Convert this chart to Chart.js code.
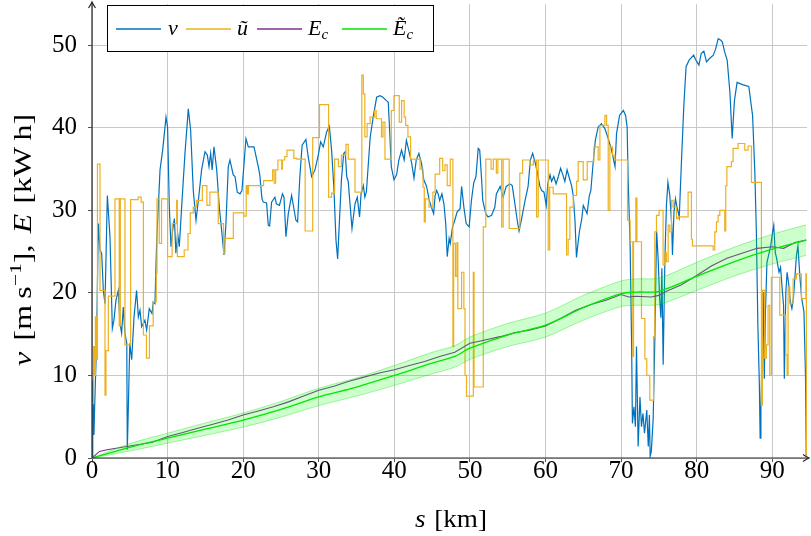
<!DOCTYPE html>
<html><head><meta charset="utf-8">
<script src="https://cdn.jsdelivr.net/npm/chart.js@4/dist/chart.umd.min.js"></script>
<style>html,body{margin:0;padding:0;background:#fff}canvas{display:block}</style>
</head><body>
<canvas id="c" width="811" height="536"></canvas>
<script>
// ---- data: v (blue) ----
const vKm = [
0,0.1,0.26,0.35,0.6,0.84,1.06,1.28,1.5,1.72,
2.03,2.38,2.69,2.9,3.17,3.48,3.7,3.92,4.14,4.36,
4.6,4.67,4.8,5.0,5.25,5.56,5.9,6.13,6.35,6.57,
6.79,7.0,7.23,7.58,7.94,8.1,8.33,8.55,9.0,9.35,
9.79,10.0,10.23,10.45,10.67,10.9,11.1,11.33,11.55,11.86,
12.3,12.74,13.05,13.4,13.76,14.07,14.5,14.95,15.26,15.48,
15.7,15.9,16.14,16.5,16.84,17.15,17.46,17.72,18.03,18.25,
18.69,18.92,19.22,19.58,19.84,20.37,20.68,21.43,22.0,22.2,
22.49,22.66,23.1,23.32,23.5,23.76,24.2,24.4,24.8,25.2,
25.4,25.66,25.97,26.41,26.6,26.98,27.2,27.5,27.8,28.3,
28.6,29.06,29.5,29.94,30.25,30.6,31.04,31.4,31.7,32.0,
32.28,32.5,32.7,33.0,33.3,33.5,33.7,33.9,34.1,34.4,
34.8,35.1,35.4,35.6,35.9,36.1,36.3,36.8,37.2,37.66,
38.1,38.5,38.95,39.2,39.4,39.6,39.95,40.3,40.6,40.96,
41.3,41.6,42.0,42.3,42.6,42.9,43.25,43.6,43.9,44.27,
44.6,44.9,45.2,45.4,45.6,45.8,46.0,46.3,46.56,46.8,
47.0,47.25,47.4,47.7,48.0,48.3,48.7,48.9,49.2,49.5,
49.9,50.2,50.5,50.8,51.1,51.3,51.55,51.7,52.1,52.4,
52.87,53.3,53.5,54.0,54.4,54.8,55.3,55.6,55.95,56.26,
56.5,56.8,57.3,57.7,58.0,58.3,58.6,58.9,59.26,59.5,
59.8,60.1,60.3,60.6,60.8,61.1,61.4,61.7,62.0,62.3,
62.56,62.86,63.1,63.45,63.67,63.9,64.1,64.3,64.5,64.8,
65.0,65.3,65.5,65.8,66.0,66.3,66.6,66.97,67.4,67.86,
68.3,68.74,69.2,69.4,69.8,70.3,70.6,70.8,70.94,71.2,
71.4,71.5,71.7,71.9,72.04,72.26,72.5,72.7,72.9,73.1,
73.4,73.6,73.75,73.85,74.0,74.25,74.47,74.7,74.9,75.1,
75.27,75.4,75.57,75.8,76.0,76.2,76.45,76.7,76.8,77.0,
77.2,77.4,77.7,78.0,78.3,78.6,79.0,79.6,79.9,80.3,
80.6,80.95,81.3,81.7,82.2,82.5,82.85,83.2,83.4,83.7,
84.04,84.4,84.7,85.0,85.35,86.15,86.9,87.4,87.7,87.9,
88.1,88.3,88.4,88.5,88.7,88.8,88.95,89.1,89.3,89.5,
89.8,90.05,90.2,90.4,90.6,90.9,91.1,91.35,91.5,91.6,
91.8,91.97,92.2,92.4,92.6,92.8,93.2,93.4,93.65,93.9,
94.2,94.4,94.5];
const vVal = [
0,9.4,2.8,6.2,13.9,28.4,25.2,24.8,20.3,18.7,
31.8,26.8,15.7,16.7,19.1,20.3,16.3,15.1,18.3,15.1,
13.9,1.0,5.8,13.9,11.9,17.1,20.3,17.1,17.9,15.9,
16.3,16.7,15.5,18.1,17.5,18.9,18.7,26.0,34.9,37.3,
41.3,40.1,30.4,25.6,27.6,29.0,24.8,27.2,25.6,30.4,
36.9,42.3,39.7,32.4,28.8,31.2,34.9,37.1,36.7,35.3,
36.9,34.9,37.7,34.9,30.4,27.6,24.6,28.4,35.3,36.1,
34.3,34.1,32.2,32.0,32.4,38.7,37.7,37.7,35.3,34.3,
31.4,31.0,30.9,28.2,28.1,31.0,31.6,30.8,30.6,32.0,
31.6,26.8,29.6,31.8,30.8,28.8,28.6,34.1,37.9,38.6,
36.5,34.1,34.9,36.7,38.3,37.7,39.5,40.2,37.3,32.8,
26.4,24.1,28.0,33.7,36.9,37.1,34.1,33.5,31.2,27.8,
30.8,31.6,29.2,32.0,33.0,31.6,32.2,38.8,41.3,43.7,
43.9,43.7,43.3,43.1,39.3,35.3,33.7,34.3,36.1,37.3,
36.1,38.5,36.9,35.7,33.9,36.1,36.9,35.7,33.7,32.9,
31.3,30.4,29.6,31.8,32.4,32.0,31.2,32.0,30.8,28.4,
24.4,26.6,26.0,28.0,28.8,29.8,30.2,32.9,30.4,28.4,
28.0,31.2,33.3,34.1,37.5,37.3,33.7,31.2,29.6,29.2,
29.4,30.4,32.0,32.9,31.6,32.9,33.2,33.0,30.8,28.8,
27.5,28.8,31.2,32.9,36.1,36.9,35.9,34.7,32.9,32.4,
32.2,30.6,33.2,34.3,33.5,34.1,33.2,34.1,35.1,34.3,
33.5,34.9,34.1,33.0,31.8,28.8,24.3,26.0,27.5,29.0,
30.6,30.0,29.6,31.8,32.4,35.7,38.5,40.1,40.5,39.9,
38.7,37.3,35.3,39.3,41.5,42.1,41.5,40.1,33.7,25.6,
13.5,4.2,6.2,3.8,13.5,1.4,7.4,3.8,5.4,3.0,
5.8,1.4,5.2,0.2,0.8,4.8,14.5,27.6,24.2,19.4,
17.0,23.0,11.3,24.2,30.6,33.4,31.8,28.2,24.6,29.8,
31.4,30.4,29.2,36.2,42.6,47.4,48.2,48.8,48.2,47.6,
49.0,49.3,48.0,48.4,48.8,49.5,50.8,50.6,50.4,49.2,
48.2,44.3,38.7,43.3,45.5,45.2,45.0,41.5,34.6,27.4,
16.1,8.8,2.4,6.0,14.1,20.1,9.6,17.7,23.7,24.5,
25.7,27.4,28.2,24.9,24.1,22.5,23.1,20.1,18.5,9.6,
20.1,22.5,20.9,18.9,18.1,19.3,24.5,25.7,22.1,19.3,
17.7,10.0,0.3];

// ---- data: u~ (orange, step) : km where each step starts, value ----
const uKm = [
0,0.2,0.35,0.45,0.6,0.72,1.06,1.72,1.85,2.16,
3.04,3.6,3.75,4.36,5.11,6.1,6.5,6.8,7.2,7.6,
8.1,8.5,8.6,8.9,9.2,10.0,10.6,11.2,11.3,12.2,
12.7,13.0,13.4,13.8,14.6,15.2,15.6,16.7,17.4,17.6,
18.7,20.1,20.4,20.55,20.7,22.7,23.9,24.1,24.3,24.6,
25.1,25.2,25.5,25.8,26.7,27.1,28.2,29.2,30.1,31.3,
31.7,32.1,32.6,33.0,33.6,33.9,34.8,35.7,35.9,36.1,
36.4,36.8,37.4,37.6,38.3,38.5,38.76,39.6,39.95,40.65,
40.96,41.3,41.5,41.8,42.15,43.4,43.8,43.96,44.1,44.6,
45.1,45.4,46.0,46.4,46.7,47.0,47.4,47.75,47.85,48.1,
48.3,48.4,48.9,49.2,49.35,49.55,50.45,50.55,51.77,52.1,
52.8,53.1,53.5,53.7,54.2,54.4,55.2,56.6,56.97,57.94,
58.4,58.82,59.04,60.36,60.55,61.02,62.79,63.0,63.23,63.67,
64.11,64.33,64.99,65.52,66.4,66.97,67.2,67.86,68.08,68.3,
68.52,68.87,69.18,70.85,71.2,71.55,71.65,71.95,72.1,72.7,
73.15,73.4,73.8,74.3,74.46,74.68,75.03,75.56,75.78,76.0,
76.23,76.45,76.67,76.89,77.33,77.55,78.87,79.31,79.44,82.18,
82.4,82.62,82.84,83.06,83.72,83.85,84.0,84.6,84.82,85.48,
86.37,86.8,87.25,88.57,88.7,89.0,89.23,89.45,89.67,89.89,
91.0,91.79,91.97,92.1,92.32,92.76,93.2,93.86,94.45,94.52];
const uVal = [
6.6,13.5,10.0,17.1,11.9,35.6,20.3,7.6,13.0,19.6,
31.4,16.0,31.4,13.7,31.3,31.6,31.0,14.9,12.1,16.0,
18.9,22.4,31.4,26.0,31.4,24.4,28.4,31.2,24.4,25.2,
27.2,29.7,30.4,31.2,33.0,30.6,32.2,28.4,24.8,26.6,
29.7,29.3,33.0,32.0,33.0,33.6,34.9,33.3,34.9,36.1,
35.0,36.1,36.5,37.3,36.3,36.2,27.5,38.8,42.8,31.6,
32.1,36.2,35.3,36.7,38.0,36.2,32.2,46.4,44.1,38.9,
40.5,41.3,42.1,41.1,38.9,40.7,36.2,42.1,43.9,40.7,
43.3,41.3,40.3,38.9,36.2,35.0,32.8,28.6,31.4,30.4,
32.2,34.4,36.3,34.8,35.5,33.0,36.2,13.5,26.0,22.0,
26.1,18.1,22.5,18.1,10.0,7.5,22.5,8.6,28.0,36.2,
35.0,36.2,34.5,36.2,28.0,36.2,27.8,34.5,36.1,35.5,
36.1,29.2,36.1,25.2,32.8,32.0,24.6,26.5,30.4,31.8,
33.5,35.9,33.7,35.9,37.7,36.1,40.3,41.5,40.3,30.0,
37.7,36.7,36.1,28.8,26.2,12.3,26.2,31.5,26.2,16.9,
12.0,10.0,7.0,14.7,27.4,29.4,30.0,23.4,24.9,23.8,
28.2,27.4,31.2,30.4,29.0,29.2,32.2,26.5,25.7,25.2,
27.4,28.6,29.4,30.0,27.5,33.0,35.3,35.9,37.5,38.1,
37.3,37.8,33.4,6.4,20.3,12.1,13.7,18.5,10.0,21.9,
17.3,12.5,10.0,20.7,18.7,21.7,22.3,19.3,22.3,0.4];

// ---- data: E_c (purple) ----
const ecKm  = [0,1,2,4,6,8,10,12,14,16,18,20,22,24,26,28,30,32,34,36,38,40,42,44,46,48,50,52,54,56,58,60,62,64,66,68,70,71,72,74,75,76,78,80,82,84,86,88,90,91.5,93,94.5];
const ecVal = [0,0.8,1.0,1.3,1.6,1.9,2.6,3.1,3.6,4.1,4.6,5.2,5.7,6.2,6.8,7.5,8.2,8.7,9.3,9.8,10.3,10.7,11.2,11.7,12.3,12.8,13.9,14.3,14.7,15.2,15.5,16.0,16.9,17.9,18.6,19.1,19.8,19.5,19.6,19.5,19.7,20.2,21.0,22.1,23.3,24.2,24.8,25.4,25.6,25.4,26.1,26.4];

// ---- data: E~_c (green) with band ----
const etKm   = [0,5,10,15,20,25,30,35,40,45,48,50,55,60,65,70,72,75,80,85,90,94.5];
const etVal  = [0,1.3,2.4,3.5,4.6,5.9,7.4,8.6,10.0,11.5,12.3,13.3,14.9,16.1,18.2,19.9,20.1,20.2,22.0,23.8,25.3,26.4];
const etLow  = [0,0.85,1.8,2.75,3.75,4.95,6.35,7.5,8.8,10.2,11.0,11.95,13.5,14.65,16.7,18.35,18.5,18.6,20.3,22.05,23.5,24.55];
const etHigh = [0,1.75,3.0,4.25,5.45,6.85,8.45,9.7,11.2,12.8,13.6,14.65,16.3,17.55,19.7,21.45,21.7,21.8,23.7,25.55,27.1,28.25];

// ---- ticks ----
const xTickVals = [0,10,20,30,40,50,60,70,80,90];
const yTickVals = [0,10,20,30,40,50];

const xy = (xs, ys) => xs.map((x, i) => ({x: x, y: ys[i]}));
const SERIF = '"Liberation Serif", "Times New Roman", serif';

function drawRuns(ctx, runs, x, y) {
  let cx = x;
  for (const r of runs) {
    if (r.gap) { cx += r.gap; continue; }
    ctx.font = r.f;
    ctx.fillText(r.t, cx, y + (r.dy || 0));
    cx += ctx.measureText(r.t).width;
  }
  return cx - x;
}
function measureRuns(ctx, runs) {
  let w = 0;
  for (const r of runs) {
    if (r.gap) { w += r.gap; continue; }
    ctx.font = r.f; w += ctx.measureText(r.t).width;
  }
  return w;
}

const decorPlugin = {
  id: 'decor',
  afterDatasetsDraw(chart) {
    const ctx = chart.ctx, a = chart.chartArea;
    ctx.save();
    ctx.strokeStyle = '#262626'; ctx.lineWidth = 1.2;
    ctx.beginPath();
    ctx.moveTo(a.left, a.bottom); ctx.lineTo(a.right + 2, a.bottom);
    ctx.moveTo(a.left, a.bottom); ctx.lineTo(a.left, a.top - 2);
    ctx.stroke();
    // arrow heads
    const ax = a.right + 2, ay = a.bottom;
    ctx.beginPath();
    ctx.moveTo(ax - 6, ay - 3.5); ctx.quadraticCurveTo(ax - 2, ay - 0.8, ax, ay);
    ctx.quadraticCurveTo(ax - 2, ay + 0.8, ax - 6, ay + 3.5);
    ctx.stroke();
    const bx = a.left, by = a.top - 2;
    ctx.beginPath();
    ctx.moveTo(bx - 3.5, by + 6); ctx.quadraticCurveTo(bx - 0.8, by + 2, bx, by);
    ctx.quadraticCurveTo(bx + 0.8, by + 2, bx + 3.5, by + 6);
    ctx.stroke();
    ctx.restore();
  },
  afterDraw(chart) {
    const ctx = chart.ctx;
    ctx.save();
    ctx.fillStyle = '#000';
    ctx.textBaseline = 'alphabetic';
    const R = '25px ' + SERIF, I = 'italic 25px ' + SERIF, S = '17px ' + SERIF;
    // x title
    const xr = [{t: 's', f: I}, {gap: 8}, {t: '[km]', f: R}];
    let w = measureRuns(ctx, xr);
    let k = 72 / w;
    ctx.save();
    ctx.translate(451 - 36, 527);
    ctx.scale(k, 1);
    drawRuns(ctx, xr, 0, 0);
    ctx.restore();
    // y title
    const yr = [{t: 'v', f: I}, {gap: 9}, {t: '[m', f: R}, {gap: 5}, {t: 's', f: R},
                {t: '\u22121', f: S, dy: -10}, {t: '],', f: R}, {gap: 9}, {t: 'E', f: I},
                {gap: 8}, {t: '[kW', f: R}, {gap: 5}, {t: 'h]', f: R}];
    w = measureRuns(ctx, yr);
    k = 252 / w;
    ctx.save();
    ctx.translate(31, 240);
    ctx.rotate(-Math.PI / 2);
    ctx.scale(k, 1);
    drawRuns(ctx, yr, -w / 2, 0);
    ctx.restore();
    // legend
    ctx.fillStyle = '#fff';
    ctx.fillRect(107, 5, 327, 47);
    ctx.strokeStyle = '#000'; ctx.lineWidth = 1;
    ctx.strokeRect(107.5, 5.5, 326, 46);
    const LI = 'italic 22px ' + SERIF, LS = 'italic 15px ' + SERIF;
    const items = [
      {c: '#0072BD', x0: 116, tx: 168, runs: [{t: 'v', f: LI}]},
      {c: '#EDB120', x0: 186, tx: 237, runs: [{t: '\u0169', f: LI}]},
      {c: '#7E2F8E', x0: 257, tx: 308, runs: [{t: 'E', f: LI}, {t: 'c', f: LS, dy: 4}]},
      {c: '#00E600', x0: 342, tx: 393, runs: [{t: '\u1EBC', f: LI}, {t: 'c', f: LS, dy: 4}]}
    ];
    for (const it of items) {
      ctx.strokeStyle = it.c; ctx.lineWidth = 1.4;
      ctx.beginPath(); ctx.moveTo(it.x0, 29); ctx.lineTo(it.x0 + 45, 29); ctx.stroke();
      ctx.fillStyle = '#000';
      drawRuns(ctx, it.runs, it.tx, 35);
    }
    ctx.restore();
  }
};

const tickFont = {family: SERIF, size: 25, lineHeight: 1.0};

new Chart(document.getElementById('c'), {
  type: 'line',
  data: {
    datasets: [
      {label: 'v', data: xy(vKm, vVal), borderColor: '#0072BD', borderWidth: 1.2, pointRadius: 0, fill: false, order: 6},
      {label: 'u~', data: xy(uKm, uVal), borderColor: '#EDB120', borderWidth: 1.2, pointRadius: 0, fill: false, stepped: 'before', order: 5},
      {label: 'E_c', data: xy(ecKm, ecVal), borderColor: '#7E2F8E', borderWidth: 1.1, pointRadius: 0, fill: false, order: 4},
      {label: 'low', data: xy(etKm, etLow), borderColor: 'rgba(0,220,0,0.35)', borderWidth: 1, pointRadius: 0, fill: false, tension: 0.3, order: 3},
      {label: 'high', data: xy(etKm, etHigh), borderColor: 'rgba(0,220,0,0.35)', borderWidth: 1, pointRadius: 0, fill: '-1', backgroundColor: 'rgba(0,255,0,0.2)', tension: 0.3, order: 2},
      {label: 'E~_c', data: xy(etKm, etVal), borderColor: '#00E600', borderWidth: 1.3, pointRadius: 0, fill: false, tension: 0.3, order: 1}
    ]
  },
  options: {
    responsive: false,
    animation: false,
    devicePixelRatio: 1,
    events: [],
    layout: {padding: {left: 0, right: 4, top: 4, bottom: 0}},
    plugins: {legend: {display: false}, tooltip: {enabled: false}},
    scales: {
      x: {
        type: 'linear', min: 0, max: 94.6,
        afterBuildTicks: s => { s.ticks = xTickVals.map(v => ({value: v})); },
        afterFit: s => { s.height = 78; s.paddingLeft = 0; s.paddingRight = 0; },
        ticks: {font: tickFont, color: '#000', padding: -3, maxRotation: 0, autoSkip: false},
        grid: {color: '#c8c8c8', lineWidth: 1, tickLength: 4, tickColor: '#555'},
        border: {display: false}
      },
      y: {
        type: 'linear', min: 0, max: 55,
        afterBuildTicks: s => { s.ticks = yTickVals.map(v => ({value: v})); },
        afterFit: s => { s.width = 92; s.paddingTop = 0; s.paddingBottom = 0; },
        ticks: {font: tickFont, color: '#000', padding: 11},
        grid: {color: '#c8c8c8', lineWidth: 1, tickLength: 4, tickColor: '#555'},
        border: {display: false}
      }
    }
  },
  plugins: [decorPlugin]
});
</script>
</body></html>
